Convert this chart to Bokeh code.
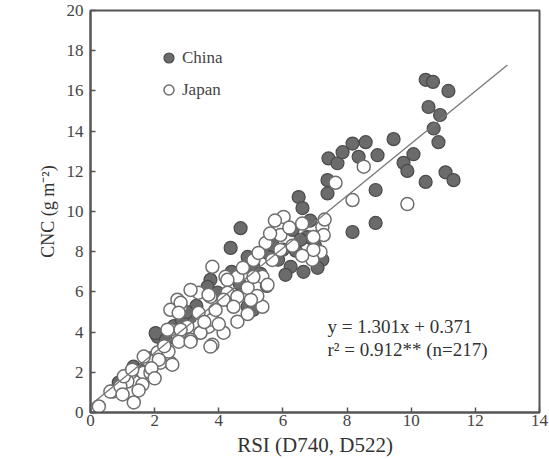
from bokeh.plotting import figure
from bokeh.models import Range1d, FixedTicker, Label, Legend, LegendItem
from bokeh.embed import file_html
from bokeh.resources import INLINE

# ---- data ----
china_x = [10.45, 10.68, 11.16, 10.54, 10.9, 10.7, 10.85, 9.45, 10.07, 9.76, 9.88, 11.07, 11.32, 10.45,
           8.89, 8.89, 8.17, 6.49, 6.61, 7.39, 7.39, 7.42, 7.7, 7.86, 8.17, 8.58, 8.36, 8.95, 4.68, 4.37,
           6.3, 6.77, 6.55, 7.23, 6.24, 6.64, 6.08, 7.08, 4.9, 5.52, 5.67, 5.08, 3.74, 3.65, 3.96, 4.9,
           5.08, 3.12, 3.43, 2.09, 2.28, 2.03, 1.34, 0.88, 5.85, 6.4, 5.3, 4.65, 6.0, 4.4, 2.6, 2.35,
           1.85, 1.55, 3.3, 4.3, 2.85, 5.5, 7.0, 6.85, 1.1, 3.0]
china_y = [16.55, 16.45, 16.0, 15.2, 14.8, 14.13, 13.45, 13.6, 12.85, 12.42, 12.02, 11.95, 11.56, 11.47,
           11.07, 9.43, 8.98, 10.72, 10.17, 11.56, 10.9, 12.64, 12.4, 12.95, 13.38, 13.45, 12.72, 12.8, 9.17, 8.19,
           9.08, 8.73, 8.59, 7.6, 7.25, 7.0, 6.85, 7.2, 7.74, 7.94, 8.34, 7.25, 6.6, 6.25, 5.96, 5.26,
           5.11, 4.76, 3.97, 3.77, 3.28, 3.95, 2.28, 1.49, 7.6, 8.05, 6.9, 6.4, 8.1, 7.0, 4.3, 3.6,
           2.7, 2.1, 5.3, 5.6, 4.6, 6.3, 8.3, 9.55, 1.7, 5.0]

japan_x = [9.88, 8.17, 7.64, 8.52, 7.23, 7.27, 7.17, 6.92, 5.92, 6.02, 6.95, 5.75, 5.46, 5.08, 3.8,
           4.21, 4.58, 5.36, 5.67, 5.92, 5.52, 5.36, 4.58, 4.15, 3.8, 3.68, 3.37, 2.81, 2.71, 2.49,
           2.49, 3.02, 2.09, 2.49, 1.78, 1.65, 1.25, 1.15, 0.69, 3.37, 3.12, 3.74, 4.27, 4.15, 4.58,
           4.9, 5.08, 5.24, 4.27, 4.46, 3.8, 3.43, 2.81, 3.12, 2.43, 2.18, 6.95, 0.26, 1.35, 0.62,
           0.93, 1.04, 1.62, 1.3, 1.87, 1.66, 2.13, 2.55, 2.4, 2.75, 2.81, 2.75, 3.12, 3.68, 3.74,
           6.3, 6.6, 5.2, 4.9, 4.0, 3.9, 1.5, 1.9, 2.3, 7.3, 6.2, 5.6, 4.75, 3.55, 2.0, 1.0, 5.0, 6.6]
japan_y = [10.37, 10.57, 11.43, 12.23, 9.23, 8.83, 7.99, 7.6, 8.83, 9.73, 8.09, 9.55, 8.43, 7.59, 7.25,
           6.75, 6.75, 6.75, 7.59, 8.09, 6.35, 5.26, 4.52, 3.97, 3.37, 4.27, 4.96, 5.26, 5.61, 5.11,
           4.12, 4.27, 2.98, 2.48, 2.63, 1.98, 1.98, 1.54, 1.04, 5.96, 6.1, 5.76, 5.96, 5.61, 5.76,
           6.2, 6.75, 7.94, 6.6, 5.26, 4.62, 3.97, 4.12, 3.62, 3.03, 2.48, 8.73, 0.3, 0.5, 1.04,
           1.3, 1.8, 1.39, 2.13, 1.98, 2.78, 2.63, 2.38, 4.12, 3.52, 5.46, 4.96, 3.52, 5.86, 3.28,
           8.3, 9.4, 5.8, 4.9, 4.4, 5.1, 1.1, 2.2, 3.3, 9.6, 9.2, 8.9, 7.2, 4.5, 1.7, 0.9, 5.6, 7.8]

slope = 1.301
intercept = 0.371
fit_x = [0, 13]
fit_y = [slope * v + intercept for v in fit_x]

x_ticks = [0, 2, 4, 6, 8, 10, 12, 14]
y_ticks = [0, 2, 4, 6, 8, 10, 12, 14, 16, 18, 20]

eq_text = "y = 1.301x + 0.371"
r2_text = "r\u00b2 = 0.912** (n=217)"

FONT = "Liberation Serif"

p = figure(width=549, height=459, output_backend="svg", toolbar_location=None,
           x_range=Range1d(0, 14), y_range=Range1d(0, 20),
           min_border_left=90, min_border_right=10, min_border_top=10, min_border_bottom=30)
p.grid.visible = False
p.background_fill_color = "white"
p.border_fill_color = "white"
p.outline_line_color = "#555555"
p.outline_line_width = 2

for ax in (p.xaxis[0], p.yaxis[0]):
    ax.axis_line_color = "#555555"
    ax.axis_line_width = 2
    ax.major_tick_in = 5
    ax.major_tick_out = 0
    ax.minor_tick_in = 0
    ax.minor_tick_out = 0
    ax.major_tick_line_color = "#555555"
    ax.major_tick_line_width = 1.5
    ax.major_label_text_font = FONT
    ax.major_label_text_font_size = "17px"
    ax.major_label_text_color = "#444444"
    ax.axis_label_text_font = FONT
    ax.axis_label_text_font_style = "normal"
    ax.axis_label_text_color = "#333333"

p.xaxis.ticker = FixedTicker(ticks=x_ticks)
p.yaxis.ticker = FixedTicker(ticks=y_ticks)
p.xaxis.axis_label = "RSI (D740, D522)"
p.yaxis.axis_label = "CNC (g m\u207b\u00b2)"
p.xaxis.axis_label_text_font_size = "21px"
p.yaxis.axis_label_text_font_size = "18px"
p.xaxis.major_label_standoff = 2
p.xaxis.axis_label_standoff = 4
p.yaxis.major_label_standoff = 7
p.yaxis.axis_label_standoff = 6

rc = p.scatter(china_x, china_y, size=13, marker="circle",
               fill_color="#6b6b6b", line_color="#4a4a4a", line_width=1.2)
rj = p.scatter(japan_x, japan_y, size=13, marker="circle",
               fill_color="white", line_color="#6e6e6e", line_width=1.5)
p.line(fit_x, fit_y, line_color="#777777", line_width=1.3)

legend = Legend(items=[LegendItem(label="China", renderers=[rc]),
                       LegendItem(label="Japan", renderers=[rj])],
                location=(66, 310))
legend.background_fill_alpha = 0
legend.border_line_alpha = 0
legend.padding = 0
legend.margin = 0
legend.spacing = 7
legend.glyph_width = 25
legend.glyph_height = 25
legend.label_standoff = 1
legend.label_text_font = FONT
legend.label_text_font_size = "17px"
legend.label_text_color = "#444444"
p.add_layout(legend, "center")

for txt, yv in ((eq_text, 4.27), (r2_text, 3.13)):
    p.add_layout(Label(x=7.39, y=yv, text=txt, text_font=FONT, text_font_size="19px",
                       text_color="#333333", text_baseline="middle", text_align="left"))

open("out.html", "w").write(file_html(p, INLINE))
